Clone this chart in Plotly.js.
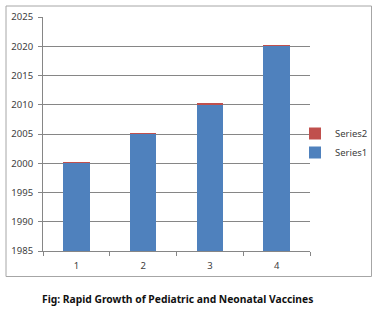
<!DOCTYPE html>
<html>
<head>
<meta charset="utf-8">
<script src="https://cdn.plot.ly/plotly-3.0.1.min.js"></script>
<style>
html,body{margin:0;padding:0;background:#fff;}
#chart{width:379px;height:310px;}
</style>
</head>
<body>
<div id="chart"></div>
<script>
var categories = ['1', '2', '3', '4'];
var series1 = [2000, 2005, 2010, 2020];
var series2 = [0.25, 0.25, 0.25, 0.25];
var seriesNames = ['Series1', 'Series2'];
var captionText = 'Fig: Rapid Growth of Pediatric and Neonatal Vaccines';

var L = 43, R = 310, T = 17, B = 251;
function px(x){ return (x - L) / (R - L); }
function py(y){ return (B - y) / (B - T); }

var traces = [
  {type:'bar', name:seriesNames[0], x:categories, y:series1, marker:{color:'#4f81bd'}, hoverinfo:'none'},
  {type:'bar', name:seriesNames[1], x:categories, y:series2, marker:{color:'#c0504d'}, hoverinfo:'none'}
];

var layout = {
  width:379, height:310,
  margin:{l:L, r:379-R, t:T, b:310-B, pad:0, autoexpand:false},
  paper_bgcolor:'#fff', plot_bgcolor:'#fff',
  barmode:'stack', bargap:0.6,
  font:{family:'Noto Sans, sans-serif', size:9.5, color:'#404040'},
  showlegend:true,
  legend:{x:px(295), y:py(119), xanchor:'left', yanchor:'top', traceorder:'reversed',
          font:{size:9.5, color:'#404040'}, bgcolor:'rgba(0,0,0,0)', itemwidth:30, tracegroupgap:0},
  xaxis:{type:'category', tickson:'boundaries', ticks:'outside', ticklen:4, tickcolor:'#868686',
         showline:true, linecolor:'#868686', linewidth:1, showgrid:false, zeroline:false,
         ticklabelstandoff:6, fixedrange:true},
  yaxis:{range:[1985, 2025], dtick:5, tick0:1985, ticks:'outside', ticklen:4, tickcolor:'#868686',
         showline:true, linecolor:'#868686', linewidth:1, showgrid:true, gridcolor:'#868686', gridwidth:1,
         zeroline:false, ticklabelstandoff:3, fixedrange:true},
  shapes:[
    {type:'rect', xref:'paper', yref:'paper', x0:px(6), x1:px(371.5), y0:py(276.5), y1:py(6),
     line:{color:'#a6a6a6', width:1}, fillcolor:'rgba(0,0,0,0)', layer:'below'}
  ],
  annotations:[
    {xref:'paper', yref:'paper', x:px(177), y:py(298.5), text:'<b>'+captionText+'</b>', showarrow:false,
     xanchor:'center', yanchor:'middle', font:{family:'Noto Sans, sans-serif', size:10.3, color:'#111111'}}
  ]
};

Plotly.newPlot('chart', traces, layout, {staticPlot:true, displayModeBar:false});
</script>
</body>
</html>
